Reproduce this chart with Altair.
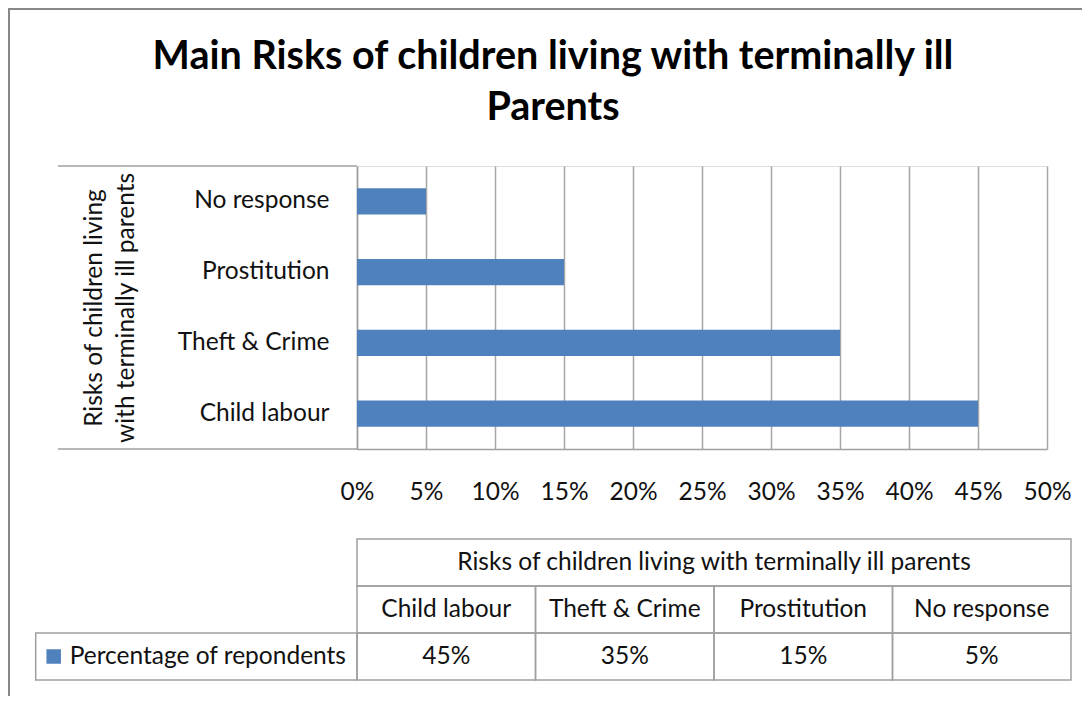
import altair as alt
import pandas as pd

# ---------------- data ----------------
categories = ["Child labour", "Theft & Crime", "Prostitution", "No response"]
values = [0.45, 0.35, 0.15, 0.05]
value_labels = ["45%", "35%", "15%", "5%"]
tick_values = [0.0, 0.05, 0.10, 0.15, 0.20, 0.25, 0.30, 0.35, 0.40, 0.45, 0.50]
series_name = "Percentage of repondents"
table_header = "Risks of children living with terminally ill parents"
axis_title = ["Risks of children living", "with terminally ill parents"]
chart_title = ["Main Risks of children living with terminally ill", "Parents"]

# ---------------- style ----------------
BLUE = "#4F81BD"
GRID = "#A6A6A6"
LINE = "#A0A0A0"
FRAME = "#888888"
FONT = "Lato"
TXT = "#111111"
FS = 24.5                  # body text size

W, H = 690, 283            # plot area
PAD = {"left": 349, "top": 158, "right": 35, "bottom": 247}
LEGEND_SPAN = 1.8          # width of legend cell in table-column units
TABLE_X_RANGE = [0, 714]
TABLE_Y_RANGE = [373, 514]

bars_df = pd.DataFrame({"category": categories, "value": values})

bars = alt.Chart(bars_df).mark_bar(color=BLUE).encode(
    x=alt.X(
        "value:Q",
        scale=alt.Scale(domain=[0, 0.5], nice=False),
        axis=alt.Axis(
            values=tick_values, format=".0%", title=None, grid=True,
            gridColor=GRID, gridWidth=1.5, ticks=False, tickSize=0,
            domain=True, domainColor=LINE, domainWidth=1.5,
            labelFont=FONT, labelFontSize=FS, labelColor=TXT,
            labelPadding=31, labelFlush=False,
        ),
    ),
    y=alt.Y(
        "category:N",
        sort=categories[::-1],
        scale=alt.Scale(paddingInner=0.63, paddingOuter=0.315),
        axis=alt.Axis(
            title=axis_title, titleFont=FONT, titleFontSize=FS,
            titleFontWeight="normal", titleColor=TXT, titleAngle=270,
            titleX=-275, titleBaseline="top", titleLineHeight=32,
            ticks=False, tickSize=0, domain=True, domainColor=LINE,
            domainWidth=1.5, labelFont=FONT, labelFontSize=FS,
            labelColor=TXT, labelPadding=28,
        ),
    ),
)

# extension lines of the category box
box_top = alt.Chart(pd.DataFrame({"k": [0]})).mark_rule(color=LINE, strokeWidth=1.5).encode(
    x=alt.value(-299), x2=alt.value(0), y=alt.value(0))
box_bottom = alt.Chart(pd.DataFrame({"k": [0]})).mark_rule(color=LINE, strokeWidth=1.5).encode(
    x=alt.value(-299), x2=alt.value(0), y=alt.value(H))

# ---------------- data table ----------------
rows = []
rows.append({"x0": 0, "x1": len(categories), "y0": 0, "y1": 1, "text": table_header})
for i, c in enumerate(categories):
    rows.append({"x0": i, "x1": i + 1, "y0": 1, "y1": 2, "text": c})
for i, v in enumerate(value_labels):
    rows.append({"x0": i, "x1": i + 1, "y0": 2, "y1": 3, "text": v})
rows.append({"x0": -LEGEND_SPAN, "x1": 0, "y0": 2, "y1": 3, "text": ""})
cells = pd.DataFrame(rows)

tx = alt.Scale(domain=[0, len(categories)], range=TABLE_X_RANGE, nice=False, zero=False)
ty = alt.Scale(domain=[0, 3], range=TABLE_Y_RANGE, nice=False, zero=False)

cell_rects = alt.Chart(cells).mark_rect(
    fill="white", fillOpacity=0, stroke=LINE, strokeWidth=1.5
).encode(
    x=alt.X("x0:Q", scale=tx, axis=None), x2="x1:Q",
    y=alt.Y("y0:Q", scale=ty, axis=None), y2="y1:Q",
)

cell_text = alt.Chart(cells).transform_filter(
    "datum.text != ''"
).transform_calculate(
    xm="(datum.x0 + datum.x1) / 2", ym="(datum.y0 + datum.y1) / 2"
).mark_text(font=FONT, fontSize=FS, color=TXT, baseline="middle", align="center").encode(
    x=alt.X("xm:Q", scale=tx, axis=None),
    y=alt.Y("ym:Q", scale=ty, axis=None),
    text="text:N",
)

legend_df = pd.DataFrame({"x": [-LEGEND_SPAN], "y": [2.5], "name": [series_name]})
legend_sq = alt.Chart(legend_df).mark_square(
    color=BLUE, size=210, opacity=1, xOffset=18
).encode(
    x=alt.X("x:Q", scale=tx, axis=None),
    y=alt.Y("y:Q", scale=ty, axis=None),
)
legend_txt = alt.Chart(legend_df).mark_text(
    font=FONT, fontSize=FS, color=TXT, align="left", baseline="middle", dx=34
).encode(
    x=alt.X("x:Q", scale=tx, axis=None),
    y=alt.Y("y:Q", scale=ty, axis=None),
    text="name:N",
)

# chart title (drawn as text so the outer frame does not push it away)
title_df = pd.DataFrame({"k": [0]})
title = alt.Chart(title_df).mark_text(
    font=FONT, fontSize=39.5, fontWeight="bold", color="#000000",
    align="center", baseline="alphabetic", lineHeight=51,
).encode(
    x=alt.value(196), y=alt.value(-97), text=alt.value(chart_title),
)

# outer chart-area frame
frame = alt.Chart(pd.DataFrame({"k": [0]})).mark_rect(
    fillOpacity=0, stroke=FRAME, strokeWidth=2
).encode(
    x=alt.value(-348), x2=alt.value(W + PAD["right"] + 20),
    y=alt.value(-157), y2=alt.value(H + PAD["bottom"] + 20),
)

chart = alt.layer(
    frame, title, bars, box_top, box_bottom, cell_rects, cell_text, legend_sq, legend_txt
).resolve_scale(
    x="independent", y="independent"
).properties(
    width=W, height=H,
    padding=PAD,
    autosize=alt.AutoSizeParams(type="none"),
).configure_view(stroke=None).configure(background="white")

chart.save("out.html", embed_options={"renderer": "svg", "actions": False})
